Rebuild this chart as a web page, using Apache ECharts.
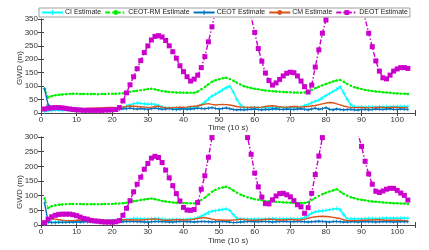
<!DOCTYPE html>
<html><head><meta charset="utf-8">
<script src="https://cdn.jsdelivr.net/npm/echarts@6/dist/echarts.min.js"></script>
<style>html,body{margin:0;padding:0;background:#fff}#c{width:429px;height:250px}</style>
</head><body><div id="c"></div>
<script>
var SERIES_NAMES = ['CI Estimate','CEOT-RM Estimate','CEOT Estimate','CM Estimate','DEOT Estimate'];
var X_LABEL = 'Time (10 s)';
var Y_LABEL = 'GWD (m)';

// ---- Top panel (time steps 1..103) ----
var TOP_CI = [5,8,9,10,10,10,10,10,10,10,10,11,11,11,11,12,12,12,12,13,14,15,20,25,30,34,37,36,34,33,34,32,27,22,20,18,17,17,17,18,18,19,20,25,32,40,52,63,70,78,86,94,100,78,50,30,20,20,20,20,20,20,20,20,20,20,20,20,20,20,20,21,22,27,32,38,44,48,56,65,72,80,88,97,75,50,30,22,22,22,22,22,22,22,23,23,23,23,24,24,24,24,24];
var TOP_RM = [90,58,63,66,68,69,70,71,72,72,71,71,71,71,71,70,71,71,72,72,72,73,74,76,79,81,83,85,87,89,90,88,85,82,80,78,77,76,76,75,75,75,75,80,88,97,107,116,122,126,129,131,127,120,113,106,100,96,93,90,88,86,84,83,81,80,79,78,77,77,76,76,75,76,80,86,92,98,103,108,113,117,121,123,116,108,101,96,92,89,86,84,82,80,79,77,76,75,74,73,72,72,71];
var TOP_CEOT = [90,30,22,20,19,18,17,17,16,16,14,13,13,12,12,12,12,12,13,13,14,15,17,16,18,16,15,17,15,14,16,18,16,14,15,17,14,13,15,16,14,15,16,18,17,16,18,20,17,15,17,19,16,13,12,13,12,13,14,15,13,12,14,13,15,16,14,13,15,14,13,15,16,14,12,15,18,14,16,20,14,12,15,13,12,13,14,12,11,13,14,12,13,15,14,13,15,16,14,13,15,14,13];
var TOP_CM = [15,16,16,17,17,16,15,15,14,14,15,16,17,18,18,19,19,20,21,21,20,19,22,24,26,25,24,23,22,21,22,24,25,22,20,19,20,21,22,21,22,24,25,27,30,33,35,32,30,31,32,31,30,27,24,22,22,21,22,22,21,22,24,26,27,25,23,22,22,23,24,23,22,23,24,26,28,31,34,37,39,38,34,30,26,23,21,20,20,21,20,19,20,21,22,21,20,21,22,21,20,20,20];
var TOP_DEOT = [15,18,19,20,20,19,17,15,13,12,11,10,10,10,10,10,10,11,11,12,13,20,45,75,105,135,165,195,225,250,272,285,288,283,270,250,228,204,176,154,135,119,126,141,169,210,265,321,380,430,470,495,505,495,470,440,410,385,358,300,240,193,149,121,104,112,125,138,148,152,150,138,119,98,78,104,171,235,297,346,400,450,490,510,510,495,470,440,410,380,352,297,247,194,156,131,127,141,156,164,169,169,166];

// ---- Bottom panel ----
var BOT_CI = [5,10,10,10,10,10,10,10,11,11,12,12,13,13,13,14,14,14,15,15,15,16,17,18,20,22,22,21,20,20,21,22,21,20,19,19,19,19,19,19,20,20,21,25,30,36,42,47,49,51,53,55,50,35,23,19,20,20,20,20,20,20,21,21,21,21,21,21,21,21,21,21,22,25,32,40,45,47,48,50,52,54,56,52,35,21,21,21,21,21,22,22,22,22,22,23,23,23,23,23,23,23,23];
var BOT_RM = [90,58,64,67,69,70,71,72,72,72,72,71,71,71,71,71,71,72,72,72,73,73,74,76,79,81,83,85,87,89,90,88,85,82,80,78,77,76,75,75,74,74,74,78,85,93,103,113,120,125,128,130,125,118,110,104,99,95,91,88,86,84,82,81,80,79,78,77,77,76,76,75,75,75,78,85,92,99,105,110,114,118,122,114,106,100,95,91,88,86,84,82,80,79,78,77,76,75,74,74,73,73,72];
var BOT_CEOT = [75,10,8,8,9,9,9,10,10,10,10,11,11,11,11,11,11,10,10,10,11,11,11,12,12,12,11,11,10,10,11,12,12,11,11,10,10,11,12,12,11,11,10,11,12,12,11,10,11,12,12,11,10,8,9,10,11,12,12,11,11,12,12,11,10,11,12,12,12,11,11,12,12,11,10,11,12,13,12,11,10,12,12,11,10,10,11,11,10,11,12,11,11,10,11,12,11,11,10,11,12,11,11];
var BOT_CM = [10,20,21,20,18,16,15,15,15,16,16,17,17,18,18,18,17,16,16,16,16,17,18,18,18,17,17,17,18,19,20,21,19,17,16,16,17,18,18,17,17,18,20,22,24,25,23,20,18,17,16,16,16,17,18,20,19,17,16,16,17,18,19,20,19,18,17,17,18,19,18,17,18,20,23,26,28,29,30,29,28,26,24,22,18,15,15,15,15,16,16,17,17,18,18,17,16,16,16,16,16,15,15];
var BOT_DEOT = [8,20,28,33,36,37,37,37,35,32,27,22,20,16,14,13,11,10,10,10,11,15,33,57,83,113,139,163,190,210,228,234,230,213,187,161,134,107,82,60,51,50,53,77,122,168,231,298,360,410,440,450,440,420,390,355,325,298,241,177,130,95,73,72,86,99,107,108,103,96,83,69,62,40,59,108,172,235,298,350,400,430,445,445,430,410,380,350,310,268,217,174,139,115,111,116,122,125,125,118,109,101,85];

var TOP_Y_TICKS = {min:0, max:350, step:50};
var BOT_Y_TICKS = {min:0, max:300, step:50};
var X_TICKS = {min:0, max:105, step:10};

function pair(arr){ var o=[]; for(var i=0;i<arr.length;i++){ o.push([i+1, arr[i]]); } return o; }

var COLORS = ['#00ffff','#00ee00','#0072bd','#d95319','#cc00cc'];
var PLUS = 'path://M4,0h2v4h4v2h-4v4h-2v-4h-4v-2h4z';
var DASHDOT = [5,2,1.5,2];

function mkSeries(idx, data, gi){
  var s = {name: SERIES_NAMES[idx], type:'line', xAxisIndex: gi*2, yAxisIndex: gi*2,
    data: pair(data), animation:false, clip:true, z: 2+idx,
    itemStyle:{color:COLORS[idx]}, lineStyle:{color:COLORS[idx], width:1.4}};
  if(idx===0){ s.symbol=PLUS; s.symbolSize=4; }
  if(idx===1){ s.symbol='circle'; s.symbolSize=2.5; s.lineStyle.type=DASHDOT; }
  if(idx===2){ s.symbol=PLUS; s.symbolSize=3.5; }
  if(idx===3){ s.symbol='none'; s.showSymbol=false; }
  if(idx===4){ s.symbol='rect'; s.symbolSize=5; s.lineStyle.type=DASHDOT; }
  return s;
}

var axisCol = '#444';
var lab = {fontSize:8, color:'#333', fontFamily:'Liberation Sans'};
function xMain(gi, gap){ return {type:'value', gridIndex:gi, min:X_TICKS.min, max:X_TICKS.max, interval:X_TICKS.step,
  name:X_LABEL, nameLocation:'middle', nameGap:gap, nameMoveOverlap:false, nameTextStyle:{fontSize:8,color:'#333',fontFamily:'Liberation Sans'},
  axisLine:{lineStyle:{color:axisCol,width:0.8}}, axisTick:{inside:true,length:3,lineStyle:{color:axisCol}},
  axisLabel:Object.assign({margin:3, formatter:function(v){return v>100?'':v;}}, lab), splitLine:{show:false}}; }
function xTop(gi){ return {type:'value', gridIndex:gi, position:'top', min:X_TICKS.min, max:X_TICKS.max, interval:X_TICKS.step,
  axisLine:{lineStyle:{color:axisCol,width:0.8}}, axisTick:{inside:true,length:3,lineStyle:{color:axisCol}},
  axisLabel:{show:false}, splitLine:{show:false}}; }
function yMain(gi, t, pad){ return {type:'value', gridIndex:gi, min:t.min, max:t.max, interval:t.step,
  name:Y_LABEL, nameLocation:'middle', nameGap:17, nameMoveOverlap:false, nameTextStyle:{fontSize:8,color:'#333',fontFamily:'Liberation Sans', padding:pad},
  axisLine:{show:true,lineStyle:{color:axisCol,width:0.8}}, axisTick:{show:true,inside:true,length:3,lineStyle:{color:axisCol}},
  axisLabel:Object.assign({margin:3}, lab), splitLine:{show:false}}; }
function yRight(gi, t){ return {type:'value', gridIndex:gi, position:'right', min:t.min, max:t.max, interval:t.step,
  axisLine:{show:true,lineStyle:{color:axisCol,width:0.8}}, axisTick:{show:true,inside:true,length:3,lineStyle:{color:axisCol}},
  axisLabel:{show:false}, splitLine:{show:false}}; }

var series = [];
var TOPS = [TOP_CI, TOP_RM, TOP_CEOT, TOP_CM, TOP_DEOT];
var BOTS = [BOT_CI, BOT_RM, BOT_CEOT, BOT_CM, BOT_DEOT];
for (var k=0;k<5;k++){ series.push(mkSeries(k, TOPS[k], 0)); }
for (var k=0;k<5;k++){ series.push(mkSeries(k, BOTS[k], 1)); }

var chart = echarts.init(document.getElementById('c'), null, {renderer:'canvas'});
chart.setOption({
  animation:false,
  backgroundColor:'#fff',
  textStyle:{fontFamily:'Liberation Sans'},
  grid:[{left:41, right:14, top:19, height:94}, {left:41, right:14, top:137, height:88}],
  xAxis:[xMain(0,11), xTop(0), xMain(1,12), xTop(1)],
  yAxis:[yMain(0,TOP_Y_TICKS,[0,4,0,0]), yRight(0,TOP_Y_TICKS), yMain(1,BOT_Y_TICKS,[0,22,0,0]), yRight(1,BOT_Y_TICKS)],
  legend:{data:SERIES_NAMES, left:39, top:8, orient:'horizontal', itemWidth:21, itemHeight:6, itemGap:3,
    padding:[1,2], borderColor:'#888', borderWidth:0.8, backgroundColor:'#fff',
    textStyle:{fontSize:7, color:'#222', padding:[0,0,0,-3]}},
  series: series
});
</script></body></html>
